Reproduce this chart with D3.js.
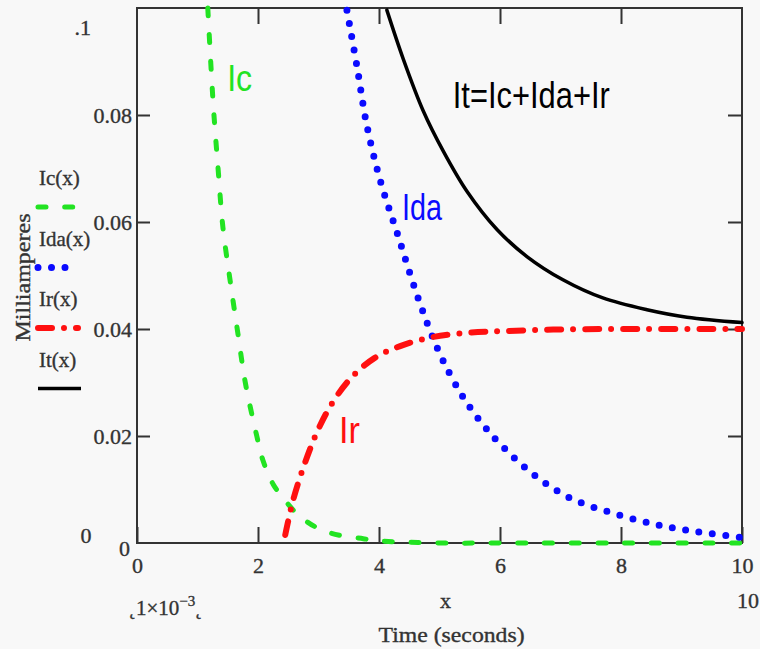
<!DOCTYPE html>
<html>
<head>
<meta charset="utf-8">
<script src="https://cdn.jsdelivr.net/npm/d3@7"></script>
<style>
  body { margin: 0; background: #f8f8f8; }
  svg { display: block; }
  .serif { font-family: "Liberation Serif", "DejaVu Serif", serif; fill: #333; stroke: #333; stroke-width: 0.35px; }
  .tag { font-family: "Liberation Sans", Arial, sans-serif; }
</style>
</head>
<body>
<div id="chart"></div>
<script>
// values (x in ms, y in mA)
const icX  = [1.17, 1.26, 1.34, 1.42, 1.54, 1.67, 1.79, 1.98, 2.08, 2.25, 2.48, 2.69, 3.02, 3.36, 3.74, 4.0, 5, 6, 8, 10];
const icY  = [0.100, 0.082, 0.070, 0.059, 0.049, 0.039, 0.030, 0.020, 0.0155, 0.011, 0.0075, 0.005, 0.0026, 0.0014, 0.0008, 0.0004, 0, 0, 0, 0];
const idaX = [3.47, 3.64, 3.80, 4.02, 4.31, 4.64, 4.98, 5.34, 5.67, 5.97, 6.50, 7.16, 7.98, 8.60, 9.03, 9.47, 10];
const idaY = [0.0996, 0.0888, 0.078, 0.0678, 0.0576, 0.046, 0.036, 0.0282, 0.0228, 0.0189, 0.0133, 0.0084, 0.0052, 0.0034, 0.0025, 0.0018, 0.001];
const irX  = [2.45, 2.58, 2.78, 2.99, 3.24, 3.55, 3.93, 4.35, 4.89, 5.47, 6.05, 6.88, 8, 10];
const irY  = [0.0015, 0.008, 0.0151, 0.0211, 0.0264, 0.031, 0.0346, 0.0368, 0.0385, 0.0393, 0.0396, 0.0399, 0.04, 0.04];
const itX  = [4.13, 4.40, 4.73, 5.06, 5.45, 5.95, 6.45, 7.04, 7.70, 8.43, 9.09, 10];
const itY  = [0.0996, 0.0905, 0.0808, 0.0733, 0.0658, 0.0586, 0.0535, 0.0492, 0.0458, 0.0436, 0.0422, 0.0412];

const xTicks = [0, 2, 4, 6, 8, 10];
const yTicks = [0, 0.02, 0.04, 0.06, 0.08];
const legendNames = ['Ic(x)', 'Ida(x)', 'Ir(x)', 'It(x)'];

const margin = {top: 8, left: 137, right: 18, bottom: 106};
const W = 760, H = 649;

const svg = d3.select('#chart').append('svg')
              .attr('width', W).attr('height', H);

const x = d3.scaleLinear().domain([0, 10]).range([margin.left, W - margin.right]);
const y = d3.scaleLinear().domain([0, 0.1]).range([H - margin.bottom, margin.top]);

svg.append('clipPath').attr('id', 'plotClip')
   .append('rect')
   .attr('x', x(0)).attr('y', y(0.1) - 3)
   .attr('width', x(10) - x(0) + 3).attr('height', y(0) - y(0.1) + 6);

// axes with inward ticks on all four sides
const axisStyle = g => {
    g.select('.domain').remove();
    g.selectAll('.tick line').attr('stroke', '#333').attr('stroke-width', 2);
    g.selectAll('text').attr('class', 'serif').attr('fill', '#333')
     .style('font-size', '22px');
};

svg.append('g').attr('transform', `translate(0,${y(0)})`)
   .call(d3.axisBottom(x).tickValues(xTicks).tickSize(-16).tickPadding(14)
           .tickFormat(d3.format('d')))
   .call(axisStyle);

svg.append('g').attr('transform', `translate(0,${y(0.1)})`)
   .call(d3.axisTop(x).tickValues(xTicks.slice(1, -1)).tickSize(-16).tickFormat(''))
   .call(axisStyle);

const yAxis = svg.append('g').attr('transform', `translate(${x(0)},0)`)
   .call(d3.axisLeft(y).tickValues(yTicks).tickSize(-13).tickPadding(5)
           .tickFormat(d => d === 0 ? '0' : d3.format('.2f')(d)))
   .call(axisStyle);
yAxis.selectAll('.tick').filter(d => d === 0).select('line').remove();
yAxis.selectAll('.tick').filter(d => d === 0).select('text').attr('dy', '0.55em').attr('x', -7);

svg.append('g').attr('transform', `translate(${x(10)},0)`)
   .call(d3.axisRight(y).tickValues(yTicks.slice(1)).tickSize(-14).tickFormat(''))
   .call(axisStyle);

svg.append('rect')
   .attr('x', x(0)).attr('y', y(0.1))
   .attr('width', x(10) - x(0)).attr('height', y(0) - y(0.1))
   .attr('fill', 'none').attr('stroke', '#333').attr('stroke-width', 2);

// curves
const series = [
    {xs: icX,  ys: icY,  color: '#22e322', width: 5, dash: '8,18.7'},
    {xs: idaX, ys: idaY, color: '#0a0aff', width: 7, dash: '0,13.5'},
    {xs: irX,  ys: irY,  color: '#ff1010', width: 6, dash: '14,12,0,12'},
    {xs: itX,  ys: itY,  color: '#000000', width: 3.5, dash: null}
];

const line = d3.line().x(d => x(d[0])).y(d => y(d[1])).curve(d3.curveCatmullRom.alpha(0.5));

const plot = svg.append('g').attr('clip-path', 'url(#plotClip)');
series.forEach(s => {
    plot.append('path')
        .datum(d3.zip(s.xs, s.ys))
        .attr('d', line)
        .attr('fill', 'none')
        .attr('stroke', s.color)
        .attr('stroke-width', s.width)
        .attr('stroke-linecap', 'round')
        .attr('stroke-dasharray', s.dash);
});

// labels inside the plot
const tags = [
    {text: 'Ic',           xv: 1.49, yv: 0.0844, color: '#22e322', len: 25},
    {text: 'Ida',          xv: 4.38, yv: 0.0604, color: '#0a0aff', len: 40},
    {text: 'Ir',           xv: 3.34, yv: 0.0187, color: '#ff1010', len: 21},
    {text: 'It=Ic+Ida+Ir', xv: 5.22, yv: 0.0813, color: '#000000', len: 157}
];
svg.append('g').selectAll('text').data(tags).join('text')
   .attr('class', 'tag')
   .attr('x', d => x(d.xv)).attr('y', d => y(d.yv))
   .attr('fill', d => d.color)
   .style('font-size', '37px')
   .attr('textLength', d => d.len)
   .attr('lengthAdjust', 'spacingAndGlyphs')
   .text(d => d.text);

// legend on the left
const legend = svg.append('g');
series.forEach((s, i) => {
    const yy = 207 + i * 60.5;
    legend.append('text').attr('class', 'serif')
          .attr('x', 39).attr('y', yy - 22)
          .style('font-size', '21px')
          .text(legendNames[i]);
    legend.append('line')
          .attr('x1', 38).attr('x2', s.dash ? 78 : 81)
          .attr('y1', yy).attr('y2', yy)
          .attr('stroke', s.color)
          .attr('stroke-width', s.width)
          .attr('stroke-linecap', s.dash ? 'round' : 'butt')
          .attr('stroke-dasharray', s.dash);
});

// axis titles and mathcad-style extras
svg.append('text').attr('class', 'serif')
   .attr('transform', `translate(30,${(y(0) + y(0.1)) / 2 + 2}) rotate(-90)`)
   .attr('text-anchor', 'middle')
   .attr('textLength', 128).attr('lengthAdjust', 'spacingAndGlyphs')
   .style('font-size', '21px')
   .text('Milliamperes');

svg.append('text').attr('class', 'serif')
   .attr('x', 91).attr('y', y(0.1) + 27).attr('text-anchor', 'end')
   .style('font-size', '22px').text('.1');
svg.append('text').attr('class', 'serif')
   .attr('x', 86).attr('y', y(0)).attr('text-anchor', 'middle')
   .style('font-size', '22px').text('0');

const exp = svg.append('text').attr('class', 'serif')
   .attr('x', 129).attr('y', 615).style('font-size', '21px');
exp.append('tspan').text('\u02db1\u00d710');
exp.append('tspan').attr('dy', -9).style('font-size', '15px').text('\u22123');
exp.append('tspan').attr('dy', 9).text('\u02db');

svg.append('text').attr('class', 'serif')
   .attr('x', x(5.1)).attr('y', 608).attr('text-anchor', 'middle')
   .style('font-size', '22px').text('x');
svg.append('text').attr('class', 'serif')
   .attr('x', x(10) + 6).attr('y', 608).attr('text-anchor', 'middle')
   .style('font-size', '22px').text('10');
svg.append('text').attr('class', 'serif')
   .attr('x', x(5.2)).attr('y', 642).attr('text-anchor', 'middle')
   .attr('textLength', 146).attr('lengthAdjust', 'spacingAndGlyphs')
   .style('font-size', '21px').text('Time (seconds)');
</script>
</body>
</html>
